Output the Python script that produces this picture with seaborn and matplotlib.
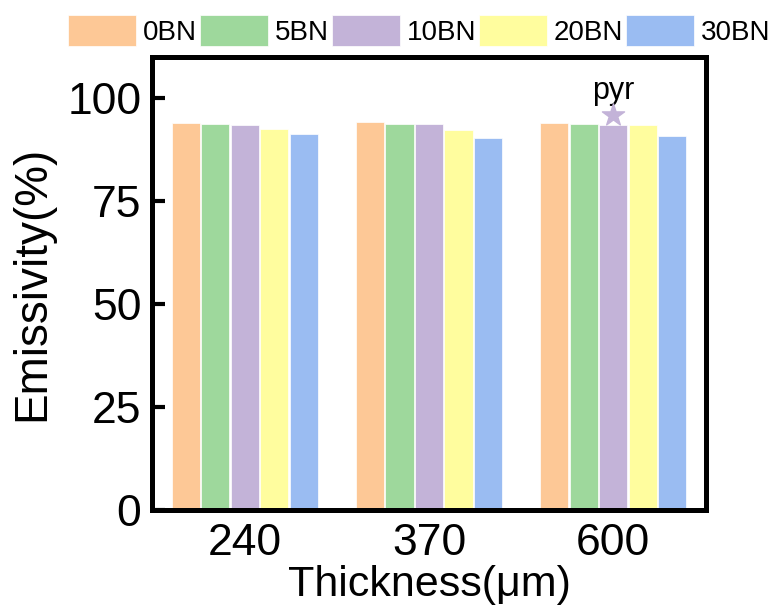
import matplotlib
matplotlib.use("Agg")
import matplotlib.pyplot as plt
import seaborn as sns
import pandas as pd

thickness = ["240", "370", "600"]
groups = ["0BN", "5BN", "10BN", "20BN", "30BN"]
emis_0bn = [94.0, 94.1, 94.0]
emis_5bn = [93.8, 93.8, 93.8]
emis_10bn = [93.6, 93.7, 93.6]
emis_20bn = [92.4, 92.2, 93.4]
emis_30bn = [91.2, 90.4, 90.8]
colors = ["#FDC896", "#9ED89C", "#C3B3D8", "#FFFD9E", "#9ABCF2"]
star_group = "600"
star_value = 95.9
star_label = "pyr"

rows = []
for g, vals in zip(groups, [emis_0bn, emis_5bn, emis_10bn, emis_20bn, emis_30bn]):
    for t, v in zip(thickness, vals):
        rows.append({"Thickness": t, "Group": g, "Emissivity": v})
df = pd.DataFrame(rows)

sns.set_theme(style="white")
plt.rcParams["font.family"] = ["Liberation Sans", "DejaVu Sans"]
plt.rcParams["text.color"] = "black"
plt.rcParams["xtick.color"] = "black"
plt.rcParams["ytick.color"] = "black"
plt.rcParams["axes.labelcolor"] = "black"

fig = plt.figure(figsize=(7.72, 6.10), dpi=100)
ax = fig.add_axes([0.1975, 0.1639, 0.7164, 0.7427])

sns.barplot(data=df, x="Thickness", y="Emissivity", hue="Group",
            order=thickness, hue_order=groups, palette=colors,
            width=0.8, gap=0.05, edgecolor="white", linewidth=0.5,
            saturation=1, ax=ax, legend=True)

# star marker above 10BN bar at 600
xi = thickness.index(star_group)
hue_i = groups.index("10BN")
bw = 0.8 / len(groups)
xs = xi - 0.4 + bw * (hue_i + 0.5)
ax.scatter([xs], [star_value], marker="*", s=280, color="#C3B3D8", zorder=5)
ax.text(xs, star_value + 2.3, star_label, ha="center", va="bottom", fontsize=22, color="black")

ax.set_ylim(0, 110)
ax.set_xlim(-0.5, 2.5)
ax.set_yticks([0, 25, 50, 75, 100])
ax.tick_params(axis="y", direction="in", length=9, width=3, labelsize=32, pad=8, left=True)
ax.tick_params(axis="x", length=0, labelsize=32, pad=9)
for s in ax.spines.values():
    s.set_linewidth(3.6)
    s.set_color("black")
ax.set_xlabel("Thickness(\u03bcm)", fontsize=31, labelpad=1)
ax.set_ylabel("Emissivity(%)", fontsize=33, labelpad=9)

handles, labels = ax.get_legend_handles_labels()
ax.legend_.remove()
fig.legend(handles, labels, loc="upper center", bbox_to_anchor=(0.543, 1.0), ncol=5,
           frameon=False, fontsize=20, handlelength=2.45, handleheight=1.35,
           handletextpad=0.25, columnspacing=0.1, borderaxespad=0.15)

fig.savefig("out.png", dpi=100)
